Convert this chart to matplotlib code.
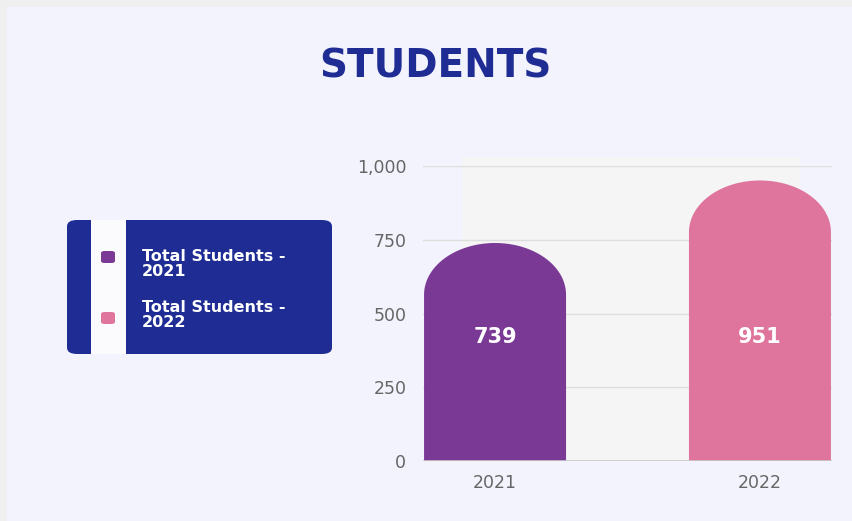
import numpy as np
import matplotlib.pyplot as plt
from matplotlib.patches import PathPatch, FancyBboxPatch, Rectangle
from matplotlib.path import Path

# data
years = ["2021", "2022"]
students = [739, 951]
series_names = ["Total Students - 2021", "Total Students - 2022"]
bar_colors = ["#7b3996", "#df759c"]
y_ticks = [0, 250, 500, 750, 1000]

W, H = 852, 521
fig = plt.figure(figsize=(W / 100, H / 100), dpi=100)
fig.patch.set_facecolor("#efefef")


def fx(px):
    return px / W


def fy(py):
    return 1 - py / H


# panel background
fig.patches.append(Rectangle((fx(7), 0), 1, fy(7), transform=fig.transFigure,
                             facecolor="#f3f3fe", edgecolor="none", zorder=-5))

fig.text(fx(435), fy(66), "STUDENTS", ha="center", va="center",
         fontsize=28, fontweight="bold", color="#1f2c93", family="DejaVu Sans")

ax = fig.add_axes([fx(423), 1 - 461 / H, 409 / W, 295 / H])
ax.set_zorder(5)
ax.patch.set_visible(False)

# light plot background behind bars
ax.add_patch(Rectangle(((462 - 423) / 409, 0), (800 - 462) / 409, 1.03,
                       transform=ax.transAxes, facecolor="#f5f5f5", edgecolor="none",
                       zorder=0, clip_on=False))

x = np.arange(len(years))
width = 0.536
bars = ax.bar(x, students, width=width, color=bar_colors, zorder=2)

ry = 175.0  # vertical radius of the rounded top, data units
for rect, c in zip(bars, bar_colors):
    x0, w, h = rect.get_x(), rect.get_width(), rect.get_height()
    rect.set_visible(False)
    cx = x0 + w / 2
    t = np.linspace(np.pi, 0, 60)
    arc = np.column_stack([cx + w / 2 * np.cos(t), h - ry + ry * np.sin(t)])
    verts = np.vstack([[x0, 0], [x0, h - ry], arc, [x0 + w, 0], [x0, 0]])
    codes = [Path.MOVETO] + [Path.LINETO] * (len(verts) - 2) + [Path.CLOSEPOLY]
    ax.add_patch(PathPatch(Path(verts, codes), facecolor=c, edgecolor="none", zorder=2))
    ax.text(cx, 420, f"{h:,.0f}", ha="center", va="center", color="white",
            fontsize=15, fontweight="bold", zorder=3)

ax.set_xlim(-0.272, 1.272)
ax.set_ylim(0, 1000)
ax.set_xticks(x)
ax.set_xticklabels(years)
ax.set_yticks(y_ticks)
ax.set_yticklabels([f"{v:,}" for v in y_ticks])
ax.tick_params(axis="both", length=0, colors="#666666", labelsize=12.5)
ax.tick_params(axis="y", pad=12)
ax.tick_params(axis="x", pad=9)
for v in y_ticks:
    ax.axhline(v, color="#dedede", lw=1, zorder=1)
for s in ax.spines.values():
    s.set_visible(False)
ax.axhline(0, color="#c8c8c8", lw=1.2, zorder=3)

# legend box
fig.patches.append(FancyBboxPatch((fx(67), fy(354)), fx(332) - fx(67), fy(220) - fy(354),
                                  boxstyle="round,pad=0,rounding_size=0.012",
                                  transform=fig.transFigure, facecolor="#1f2c93",
                                  edgecolor="none", zorder=1))
fig.patches.append(Rectangle((fx(91), fy(354)), fx(126) - fx(91), fy(220) - fy(354),
                             transform=fig.transFigure, facecolor="#fbfbfe",
                             edgecolor="none", zorder=2))
marker_rows = [257, 318]
text_rows = [264, 315]
for name, c, py, ty in zip(series_names, bar_colors, marker_rows, text_rows):
    fig.patches.append(FancyBboxPatch((fx(101), fy(py + 6)), fx(14), 12 / H,
                                      boxstyle="round,pad=0,rounding_size=0.004",
                                      transform=fig.transFigure, facecolor=c,
                                      edgecolor="none", zorder=3))
    fig.text(fx(142), fy(ty), name.replace(" - ", " -\n"), ha="left", va="center",
             fontsize=11.5, fontweight="bold", color="white", linespacing=0.95, zorder=4)

fig.savefig("out.png", dpi=100, facecolor=fig.get_facecolor())
